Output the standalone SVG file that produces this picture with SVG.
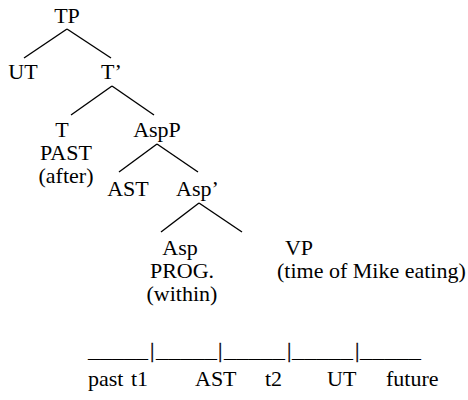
<svg xmlns="http://www.w3.org/2000/svg" width="468" height="400" viewBox="0 0 468 400" font-family="'Liberation Serif', 'Times New Roman', 'DejaVu Serif', serif" font-size="22">
<style>
text{font-family:'Liberation Serif','Times New Roman',serif;font-size:22px;fill:#000}
.c{text-anchor:middle}
.e line{stroke:#000;stroke-width:1.4}
.p{stroke:#000;stroke-width:0.3}
</style>
<rect width="468" height="400" fill="#fff"/>
<g id="edges" class="e">
<line x1="67" y1="29" x2="24" y2="58"/>
<line x1="67" y1="29" x2="111" y2="58"/>
<line x1="112" y1="86" x2="71" y2="115"/>
<line x1="112" y1="86" x2="154" y2="115"/>
<line x1="157" y1="144" x2="119" y2="172"/>
<line x1="157" y1="144" x2="198" y2="172"/>
<line x1="199" y1="203" x2="161" y2="232"/>
<line x1="199" y1="203" x2="242" y2="232"/>
</g>
<g id="TP"><text class="c" x="67" y="23">TP</text></g>
<g id="UT"><text class="c" x="23" y="79">UT</text></g>
<g id="Tbar"><text x="101" y="79">T’</text></g>
<g id="T"><text class="c" x="62" y="137">T</text><text class="c" x="66" y="160">PAST</text><text class="c" x="66" y="183">(after)</text></g>
<g id="AspP"><text class="c" x="157" y="137">AspP</text></g>
<g id="AST"><text class="c" x="128" y="196">AST</text></g>
<g id="Aspbar"><text x="176" y="196">Asp’</text></g>
<g id="Asp"><text class="c" x="180" y="255">Asp</text><text class="c" x="182" y="278">PROG.</text><text class="c" x="182" y="301">(within)</text></g>
<g id="VP"><text class="c" x="299" y="255">VP</text><text x="277" y="278">(time of Mike eating)</text></g>
<g id="timeline">
<text x="88" y="357" textLength="60" lengthAdjust="spacingAndGlyphs">_____</text>
<text class="p" x="150" y="357">|</text>
<text x="156" y="357" textLength="61" lengthAdjust="spacingAndGlyphs">_____</text>
<text class="p" x="218" y="357">|</text>
<text x="224" y="357" textLength="61" lengthAdjust="spacingAndGlyphs">_____</text>
<text class="p" x="287" y="357">|</text>
<text x="292" y="357" textLength="61" lengthAdjust="spacingAndGlyphs">_____</text>
<text class="p" x="355" y="357">|</text>
<text x="360" y="357" textLength="61" lengthAdjust="spacingAndGlyphs">_____</text>
<text y="386"><tspan x="88">past</tspan><tspan x="131">t1</tspan><tspan x="195">AST</tspan><tspan x="265">t2</tspan><tspan x="327">UT</tspan><tspan x="386">future</tspan></text>
</g>
</svg>
